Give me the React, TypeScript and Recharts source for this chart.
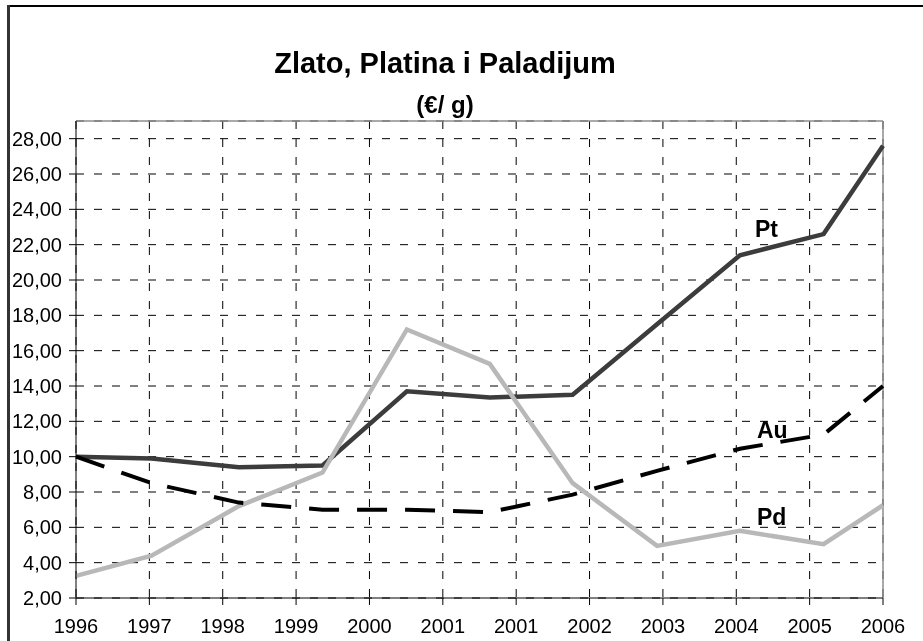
import React from "react";
import { LineChart, Line, XAxis, YAxis, CartesianGrid, ReferenceLine } from "recharts";

// oznake na x osi (u originalu se 2001 ponavlja)
const yearLabels = ["1996", "1997", "1998", "1999", "2000", "2001", "2001", "2002", "2003", "2004", "2005", "2006"];

// polozaj tacaka na x osi (u jedinicama kategorija, 0 = 1996)
const xPos = [0, 1.03, 2.22, 3.36, 4.51, 5.64, 6.77, 7.92, 9.05, 10.19, 11];

// cene u €/g
const pt = [10.0, 9.9, 9.4, 9.5, 13.7, 13.35, 13.5, 17.5, 21.4, 22.6, 27.6];
const au = [10.0, 8.5, 7.4, 7.0, 7.0, 6.86, 7.85, 9.2, 10.45, 11.25, 14.0];
const pd = [3.25, 4.4, 7.2, 9.1, 17.2, 15.25, 8.5, 4.95, 5.8, 5.05, 7.25];

const yTicks = [2, 4, 6, 8, 10, 12, 14, 16, 18, 20, 22, 24, 26, 28];
const xTicks = yearLabels.map((_, i) => i);

const font = "'Liberation Sans', Arial, sans-serif";

export default function App() {
  const data = xPos.map((x, i) => ({ x, pt: pt[i], au: au[i], pd: pd[i] }));

  return (
    <div style={{ position: "relative", width: 907, height: 633, fontFamily: font }}>
      <style>{"html,body{overflow:hidden}"}</style>
      {/* okvir grafikona: gornja i leva ivica */}
      <div style={{ position: "fixed", left: 7, top: 5, width: 940, height: 2, background: "#000" }} />
      <div style={{ position: "fixed", left: 7, top: 5, width: 3, height: 660, background: "#333" }} />
      <LineChart width={907} height={633} data={data} margin={{ top: 113, right: 32, bottom: 8, left: 0 }}>
        <CartesianGrid stroke="#000" strokeDasharray="8 10" strokeWidth={1} />
        <XAxis
          dataKey="x"
          type="number"
          domain={[0, 11]}
          ticks={xTicks}
          tickFormatter={(v) => yearLabels[v] ?? ""}
          interval={0}
          height={35}
          tickSize={7}
          tickMargin={14}
          stroke="#000"
          tick={{ fontSize: 20, fill: "#000", fontFamily: font }}
        />
        <YAxis
          type="number"
          domain={[2, 29]}
          ticks={yTicks}
          interval={0}
          width={68}
          tickSize={7}
          tickMargin={7}
          stroke="#000"
          tickFormatter={(v) => v.toFixed(2).replace(".", ",")}
          tick={{ fontSize: 20, fill: "#000", fontFamily: font }}
        />
        <ReferenceLine y={29} stroke="#8c8c8c" strokeWidth={1.5} />
        <ReferenceLine x={11} stroke="#8c8c8c" strokeWidth={1.5} />
        <Line type="linear" dataKey="pt" stroke="#3c3c3c" strokeWidth={4.5} dot={false} isAnimationActive={false} />
        <Line type="linear" dataKey="pd" stroke="#b8b8b8" strokeWidth={4.5} dot={false} isAnimationActive={false} />
        <Line
          type="linear"
          dataKey="au"
          stroke="#000"
          strokeWidth={4}
          strokeDasharray="30 18"
          dot={false}
          isAnimationActive={false}
        />
      </LineChart>
      <svg
        width={907}
        height={633}
        style={{ position: "absolute", left: 0, top: 0, pointerEvents: "none" }}
      >
        <g fontFamily={font} fontWeight="bold" fill="#000">
          <text x={437} y={65} fontSize={29} textAnchor="middle">
            Zlato, Platina i Paladijum
          </text>
          <text x={437} y={105} fontSize={24} textAnchor="middle">
            (€/ g)
          </text>
          <text x={747} y={229} fontSize={23}>Pt</text>
          <text x={749} y={430} fontSize={23}>Au</text>
          <text x={749} y={517} fontSize={23}>Pd</text>
        </g>
      </svg>
    </div>
  );
}
